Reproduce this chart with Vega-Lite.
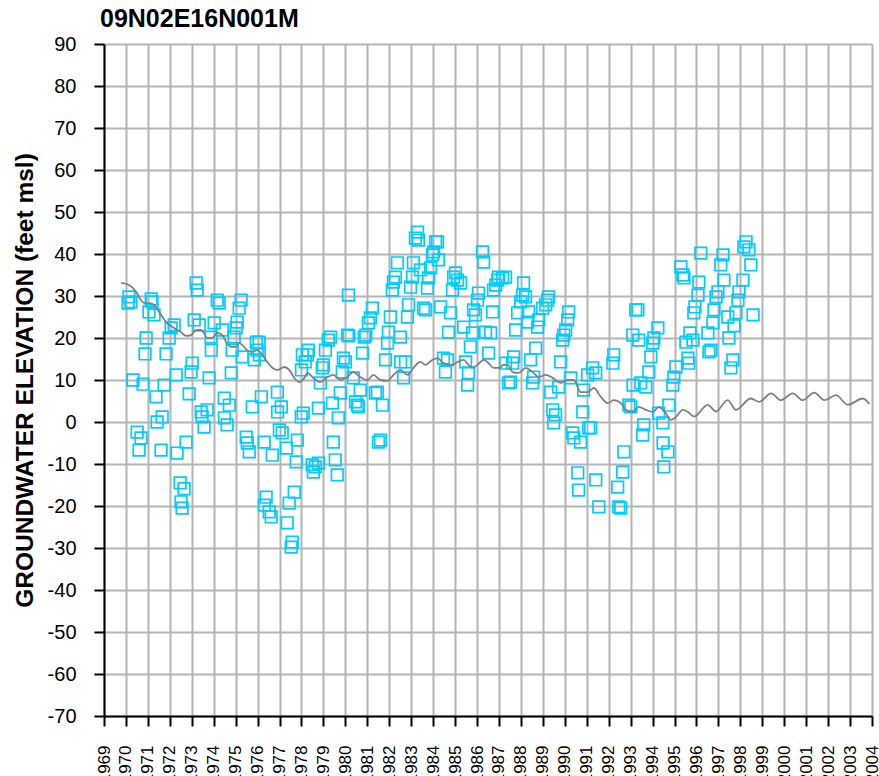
{
  "$schema": "https://vega.github.io/schema/vega-lite/v6.json",
  "width": 768,
  "height": 672,
  "autosize": {"type": "none"},
  "padding": {"left": 104, "top": 44, "right": 7, "bottom": 60},
  "background": "white",
  "config": {
    "view": {"stroke": null},
    "font": "Liberation Sans"
  },
  "title": {
    "text": "09N02E16N001M",
    "anchor": "start",
    "frame": "group",
    "font": "Liberation Sans",
    "fontSize": 25,
    "fontWeight": "bold",
    "color": "black",
    "dx": -4,
    "offset": 2
  },
  "datasets": {
    "obs": [
      {"year": 1970.14, "elev": 29.8}, {"year": 1970.23, "elev": 28.6}, {"year": 1970.10, "elev": 28.3},
      {"year": 1970.92, "elev": 20.0}, {"year": 1970.87, "elev": 16.2}, {"year": 1970.32, "elev": 10.0},
      {"year": 1970.78, "elev": 9.0}, {"year": 1971.37, "elev": 6.0}, {"year": 1970.51, "elev": -2.4},
      {"year": 1970.69, "elev": -3.8}, {"year": 1970.60, "elev": -6.7}, {"year": 1971.42, "elev": 0.0},
      {"year": 1971.65, "elev": 1.2}, {"year": 1971.19, "elev": 28.6}, {"year": 1971.05, "elev": 26.2},
      {"year": 1971.28, "elev": 25.5}, {"year": 1971.15, "elev": 29.3}, {"year": 1971.60, "elev": -6.7},
      {"year": 1972.06, "elev": 22.4}, {"year": 1972.20, "elev": 23.1}, {"year": 1971.97, "elev": 20.0},
      {"year": 1971.83, "elev": 16.2}, {"year": 1971.74, "elev": 8.8}, {"year": 1972.29, "elev": 11.2},
      {"year": 1972.33, "elev": -7.4}, {"year": 1972.74, "elev": -4.8}, {"year": 1972.47, "elev": -14.5},
      {"year": 1972.65, "elev": -15.9}, {"year": 1972.51, "elev": -19.0}, {"year": 1972.56, "elev": -20.5},
      {"year": 1973.20, "elev": 33.1}, {"year": 1973.25, "elev": 31.4}, {"year": 1973.11, "elev": 24.3},
      {"year": 1973.34, "elev": 23.1}, {"year": 1973.02, "elev": 14.0}, {"year": 1972.97, "elev": 11.9},
      {"year": 1972.88, "elev": 6.7}, {"year": 1973.43, "elev": 2.4}, {"year": 1973.47, "elev": 1.2},
      {"year": 1973.56, "elev": -1.2}, {"year": 1973.70, "elev": 2.9}, {"year": 1974.16, "elev": 29.0},
      {"year": 1974.25, "elev": 28.3}, {"year": 1974.02, "elev": 23.6}, {"year": 1974.39, "elev": 21.9},
      {"year": 1973.88, "elev": 20.2}, {"year": 1973.89, "elev": 17.1}, {"year": 1973.79, "elev": 10.5},
      {"year": 1974.48, "elev": 5.7}, {"year": 1974.71, "elev": 4.0}, {"year": 1974.49, "elev": 1.0},
      {"year": 1974.61, "elev": -0.7}, {"year": 1974.80, "elev": 11.7}, {"year": 1975.25, "elev": 29.0},
      {"year": 1975.16, "elev": 27.1}, {"year": 1975.07, "elev": 23.8}, {"year": 1975.02, "elev": 22.4},
      {"year": 1974.93, "elev": 20.2}, {"year": 1974.84, "elev": 17.1}, {"year": 1975.30, "elev": 15.5},
      {"year": 1975.48, "elev": -3.6}, {"year": 1975.53, "elev": -5.0}, {"year": 1975.62, "elev": -7.1},
      {"year": 1975.94, "elev": 19.0}, {"year": 1976.07, "elev": 19.0}, {"year": 1975.98, "elev": 17.1},
      {"year": 1976.08, "elev": 16.0}, {"year": 1975.85, "elev": 14.8}, {"year": 1975.76, "elev": 3.6},
      {"year": 1976.17, "elev": 6.0}, {"year": 1976.30, "elev": -4.8}, {"year": 1976.67, "elev": -7.9},
      {"year": 1976.90, "elev": 7.1}, {"year": 1977.08, "elev": 3.6}, {"year": 1976.91, "elev": 2.4},
      {"year": 1976.99, "elev": -1.9}, {"year": 1977.12, "elev": -2.6}, {"year": 1977.31, "elev": -6.2},
      {"year": 1976.39, "elev": -17.9}, {"year": 1976.31, "elev": -19.8}, {"year": 1976.53, "elev": -21.4},
      {"year": 1976.62, "elev": -22.6}, {"year": 1977.35, "elev": -24.0}, {"year": 1977.44, "elev": -19.3},
      {"year": 1977.67, "elev": -16.7}, {"year": 1977.58, "elev": -28.6}, {"year": 1977.53, "elev": -29.8},
      {"year": 1977.99, "elev": 1.2}, {"year": 1977.81, "elev": -4.3}, {"year": 1977.76, "elev": -9.5},
      {"year": 1978.00, "elev": 12.4}, {"year": 1978.04, "elev": 16.0}, {"year": 1978.31, "elev": 17.1},
      {"year": 1978.27, "elev": 16.0}, {"year": 1978.17, "elev": 14.3}, {"year": 1978.08, "elev": 2.1},
      {"year": 1978.49, "elev": -10.2}, {"year": 1978.63, "elev": -10.7}, {"year": 1978.54, "elev": -11.9},
      {"year": 1978.77, "elev": -9.8}, {"year": 1979.32, "elev": 20.2}, {"year": 1979.22, "elev": 19.5},
      {"year": 1979.09, "elev": 17.1}, {"year": 1979.00, "elev": 13.6}, {"year": 1978.95, "elev": 12.9},
      {"year": 1978.86, "elev": 9.3}, {"year": 1978.77, "elev": 3.3}, {"year": 1979.41, "elev": 4.5},
      {"year": 1979.77, "elev": 6.9}, {"year": 1979.68, "elev": 1.0}, {"year": 1979.45, "elev": -4.8},
      {"year": 1979.54, "elev": -9.0}, {"year": 1979.63, "elev": -12.6}, {"year": 1980.14, "elev": 30.2},
      {"year": 1980.10, "elev": 20.7}, {"year": 1980.16, "elev": 20.5}, {"year": 1979.91, "elev": 15.2},
      {"year": 1980.00, "elev": 14.3}, {"year": 1979.86, "elev": 11.9}, {"year": 1980.36, "elev": 10.5},
      {"year": 1980.46, "elev": 4.8}, {"year": 1980.55, "elev": 4.0}, {"year": 1980.59, "elev": 3.6},
      {"year": 1980.78, "elev": 16.4}, {"year": 1980.68, "elev": 7.6}, {"year": 1981.23, "elev": 27.1},
      {"year": 1981.14, "elev": 24.8}, {"year": 1981.05, "elev": 23.6}, {"year": 1980.93, "elev": 20.7},
      {"year": 1980.86, "elev": 20.2}, {"year": 1981.46, "elev": 7.1}, {"year": 1981.37, "elev": 6.9},
      {"year": 1981.69, "elev": 4.0}, {"year": 1981.60, "elev": -4.3}, {"year": 1981.51, "elev": -4.8},
      {"year": 1982.05, "elev": 25.0}, {"year": 1981.96, "elev": 21.4}, {"year": 1981.92, "elev": 18.8},
      {"year": 1981.83, "elev": 14.8}, {"year": 1982.37, "elev": 37.9}, {"year": 1982.28, "elev": 34.5},
      {"year": 1982.19, "elev": 33.3}, {"year": 1982.14, "elev": 31.4}, {"year": 1982.51, "elev": 20.2},
      {"year": 1982.52, "elev": 14.3}, {"year": 1982.74, "elev": 14.3}, {"year": 1982.65, "elev": 10.5},
      {"year": 1983.29, "elev": 45.2}, {"year": 1983.19, "elev": 43.8}, {"year": 1983.33, "elev": 43.3},
      {"year": 1983.10, "elev": 37.9}, {"year": 1983.06, "elev": 34.5}, {"year": 1982.97, "elev": 32.1},
      {"year": 1982.88, "elev": 27.9}, {"year": 1982.83, "elev": 25.0}, {"year": 1983.56, "elev": 27.1},
      {"year": 1983.65, "elev": 26.7}, {"year": 1983.74, "elev": 31.9}, {"year": 1983.79, "elev": 34.3},
      {"year": 1983.42, "elev": 36.2}, {"year": 1983.88, "elev": 36.7}, {"year": 1983.97, "elev": 39.8},
      {"year": 1984.02, "elev": 40.5}, {"year": 1984.11, "elev": 42.9}, {"year": 1984.20, "elev": 42.9},
      {"year": 1984.24, "elev": 38.6}, {"year": 1984.34, "elev": 27.4}, {"year": 1984.70, "elev": 21.4},
      {"year": 1984.79, "elev": 26.0}, {"year": 1984.47, "elev": 15.2}, {"year": 1984.65, "elev": 14.8},
      {"year": 1984.56, "elev": 11.9}, {"year": 1984.88, "elev": 31.4}, {"year": 1984.93, "elev": 34.5},
      {"year": 1985.02, "elev": 35.5}, {"year": 1985.11, "elev": 33.8}, {"year": 1985.25, "elev": 33.1},
      {"year": 1985.39, "elev": 22.6}, {"year": 1985.80, "elev": 21.2}, {"year": 1985.70, "elev": 17.9},
      {"year": 1985.61, "elev": 11.7}, {"year": 1985.48, "elev": 14.3}, {"year": 1985.57, "elev": 8.8},
      {"year": 1986.07, "elev": 30.7}, {"year": 1986.02, "elev": 29.0}, {"year": 1985.84, "elev": 26.7},
      {"year": 1985.93, "elev": 25.5}, {"year": 1986.71, "elev": 26.2}, {"year": 1986.39, "elev": 21.4},
      {"year": 1986.62, "elev": 21.2}, {"year": 1986.53, "elev": 16.4}, {"year": 1986.25, "elev": 40.5},
      {"year": 1986.30, "elev": 38.1}, {"year": 1986.85, "elev": 32.6}, {"year": 1986.94, "elev": 33.8},
      {"year": 1986.75, "elev": 31.4}, {"year": 1986.98, "elev": 34.5}, {"year": 1987.17, "elev": 34.3},
      {"year": 1987.30, "elev": 34.5}, {"year": 1988.12, "elev": 33.1}, {"year": 1988.08, "elev": 30.2},
      {"year": 1988.21, "elev": 29.8}, {"year": 1987.99, "elev": 28.6}, {"year": 1987.85, "elev": 26.0},
      {"year": 1988.35, "elev": 26.2}, {"year": 1988.31, "elev": 23.8}, {"year": 1987.76, "elev": 21.9},
      {"year": 1987.67, "elev": 15.5}, {"year": 1987.62, "elev": 14.0}, {"year": 1987.30, "elev": 14.0},
      {"year": 1987.53, "elev": 9.5}, {"year": 1987.44, "elev": 9.3}, {"year": 1988.44, "elev": 14.8},
      {"year": 1988.67, "elev": 17.6}, {"year": 1988.58, "elev": 10.7}, {"year": 1988.53, "elev": 9.3},
      {"year": 1989.26, "elev": 29.8}, {"year": 1989.22, "elev": 29.0}, {"year": 1989.13, "elev": 27.9},
      {"year": 1988.99, "elev": 27.1}, {"year": 1988.81, "elev": 24.3}, {"year": 1988.76, "elev": 22.6},
      {"year": 1989.36, "elev": 7.1}, {"year": 1989.72, "elev": 8.3}, {"year": 1989.45, "elev": 2.9},
      {"year": 1989.58, "elev": 1.7}, {"year": 1989.49, "elev": -0.2}, {"year": 1990.18, "elev": 26.2},
      {"year": 1990.13, "elev": 24.3}, {"year": 1990.04, "elev": 21.9}, {"year": 1989.95, "elev": 20.7},
      {"year": 1989.90, "elev": 19.5}, {"year": 1989.81, "elev": 14.3}, {"year": 1990.27, "elev": 10.5},
      {"year": 1990.82, "elev": 2.4}, {"year": 1990.86, "elev": 7.6}, {"year": 1991.18, "elev": -1.4},
      {"year": 1991.09, "elev": -1.4}, {"year": 1990.36, "elev": -2.6}, {"year": 1990.41, "elev": -3.8},
      {"year": 1990.72, "elev": -4.8}, {"year": 1990.59, "elev": -12.1}, {"year": 1990.63, "elev": -16.2},
      {"year": 1991.04, "elev": 11.2}, {"year": 1991.27, "elev": 12.9}, {"year": 1991.41, "elev": 11.7},
      {"year": 1991.41, "elev": -13.8}, {"year": 1991.55, "elev": -20.2}, {"year": 1992.23, "elev": 16.0},
      {"year": 1992.19, "elev": 14.0}, {"year": 1992.41, "elev": -15.5}, {"year": 1992.46, "elev": -20.2},
      {"year": 1992.55, "elev": -20.5}, {"year": 1992.64, "elev": -11.9}, {"year": 1992.69, "elev": -7.1},
      {"year": 1993.23, "elev": 26.7}, {"year": 1993.33, "elev": 26.7}, {"year": 1993.10, "elev": 20.7},
      {"year": 1993.37, "elev": 19.5}, {"year": 1992.92, "elev": 4.0}, {"year": 1993.01, "elev": 3.6},
      {"year": 1993.11, "elev": 8.8}, {"year": 1993.46, "elev": 9.3}, {"year": 1993.69, "elev": 8.3},
      {"year": 1993.83, "elev": 11.9}, {"year": 1993.92, "elev": 15.5}, {"year": 1994.01, "elev": 18.8},
      {"year": 1994.06, "elev": 20.0}, {"year": 1994.24, "elev": 22.4}, {"year": 1993.60, "elev": -0.7},
      {"year": 1993.55, "elev": -3.1}, {"year": 1994.28, "elev": 2.1}, {"year": 1994.47, "elev": -0.2},
      {"year": 1994.48, "elev": -5.0}, {"year": 1994.70, "elev": -7.1}, {"year": 1994.51, "elev": -10.7},
      {"year": 1994.74, "elev": 4.0}, {"year": 1994.92, "elev": 8.8}, {"year": 1994.97, "elev": 10.7},
      {"year": 1995.06, "elev": 13.1}, {"year": 1995.29, "elev": 36.9}, {"year": 1995.38, "elev": 35.0},
      {"year": 1995.43, "elev": 34.3}, {"year": 1995.52, "elev": 19.0}, {"year": 1995.61, "elev": 15.2},
      {"year": 1995.65, "elev": 14.0}, {"year": 1995.84, "elev": 19.5}, {"year": 1995.88, "elev": 26.0},
      {"year": 1995.93, "elev": 27.4}, {"year": 1996.20, "elev": 40.2}, {"year": 1996.11, "elev": 33.3},
      {"year": 1996.07, "elev": 30.2}, {"year": 1995.70, "elev": 21.2}, {"year": 1997.21, "elev": 39.8},
      {"year": 1997.11, "elev": 37.4}, {"year": 1997.25, "elev": 33.8}, {"year": 1996.98, "elev": 31.0},
      {"year": 1996.89, "elev": 29.8}, {"year": 1996.80, "elev": 26.7}, {"year": 1996.75, "elev": 23.6},
      {"year": 1996.52, "elev": 21.2}, {"year": 1996.57, "elev": 16.7}, {"year": 1996.66, "elev": 17.1},
      {"year": 1997.43, "elev": 25.0}, {"year": 1997.48, "elev": 20.0}, {"year": 1997.57, "elev": 12.9},
      {"year": 1997.66, "elev": 14.8}, {"year": 1998.26, "elev": 42.9}, {"year": 1998.16, "elev": 41.7},
      {"year": 1998.39, "elev": 41.0}, {"year": 1998.48, "elev": 37.4}, {"year": 1998.12, "elev": 33.8},
      {"year": 1997.94, "elev": 31.0}, {"year": 1997.89, "elev": 29.0}, {"year": 1997.80, "elev": 26.0},
      {"year": 1997.71, "elev": 22.9}, {"year": 1998.58, "elev": 25.5}
    ],
    "trend": [
      {"year": 1969.78, "elev": 33.1}, {"year": 1970.14, "elev": 32.6}, {"year": 1970.46, "elev": 31.0},
      {"year": 1970.69, "elev": 29.0}, {"year": 1970.83, "elev": 28.3}, {"year": 1971.05, "elev": 28.3},
      {"year": 1971.28, "elev": 27.9}, {"year": 1971.51, "elev": 26.2}, {"year": 1971.83, "elev": 23.8},
      {"year": 1972.19, "elev": 22.4}, {"year": 1972.51, "elev": 21.4}, {"year": 1972.74, "elev": 20.5},
      {"year": 1972.97, "elev": 20.7}, {"year": 1973.20, "elev": 21.9}, {"year": 1973.43, "elev": 21.9},
      {"year": 1973.56, "elev": 21.2}, {"year": 1973.70, "elev": 20.0}, {"year": 1973.93, "elev": 20.0},
      {"year": 1974.16, "elev": 21.2}, {"year": 1974.39, "elev": 20.7}, {"year": 1974.57, "elev": 19.0},
      {"year": 1974.80, "elev": 17.9}, {"year": 1975.02, "elev": 17.9}, {"year": 1975.16, "elev": 18.8},
      {"year": 1975.30, "elev": 18.3}, {"year": 1975.53, "elev": 17.1}, {"year": 1975.75, "elev": 16.7},
      {"year": 1975.98, "elev": 17.1}, {"year": 1976.21, "elev": 16.0}, {"year": 1976.44, "elev": 14.3},
      {"year": 1976.67, "elev": 12.9}, {"year": 1976.90, "elev": 12.4}, {"year": 1977.22, "elev": 13.1},
      {"year": 1977.44, "elev": 12.4}, {"year": 1977.67, "elev": 10.5}, {"year": 1977.90, "elev": 9.5},
      {"year": 1978.13, "elev": 10.5}, {"year": 1978.27, "elev": 11.7}, {"year": 1978.54, "elev": 10.5},
      {"year": 1978.86, "elev": 9.5}, {"year": 1979.18, "elev": 10.7}, {"year": 1979.45, "elev": 11.2},
      {"year": 1979.77, "elev": 10.0}, {"year": 1980.09, "elev": 10.7}, {"year": 1980.36, "elev": 11.9},
      {"year": 1980.68, "elev": 10.7}, {"year": 1981.00, "elev": 10.0}, {"year": 1981.28, "elev": 11.2},
      {"year": 1981.60, "elev": 10.0}, {"year": 1981.92, "elev": 9.8}, {"year": 1982.19, "elev": 11.2},
      {"year": 1982.51, "elev": 12.4}, {"year": 1982.83, "elev": 11.2}, {"year": 1983.10, "elev": 12.9},
      {"year": 1983.42, "elev": 14.3}, {"year": 1983.65, "elev": 13.6}, {"year": 1983.97, "elev": 14.8},
      {"year": 1984.20, "elev": 15.2}, {"year": 1984.47, "elev": 14.0}, {"year": 1984.88, "elev": 13.6},
      {"year": 1985.11, "elev": 14.3}, {"year": 1985.39, "elev": 14.8}, {"year": 1985.61, "elev": 13.6},
      {"year": 1985.80, "elev": 12.9}, {"year": 1986.02, "elev": 13.6}, {"year": 1986.30, "elev": 14.8},
      {"year": 1986.53, "elev": 14.0}, {"year": 1986.75, "elev": 12.9}, {"year": 1987.07, "elev": 12.9},
      {"year": 1987.17, "elev": 13.6}, {"year": 1987.39, "elev": 13.6}, {"year": 1987.62, "elev": 11.9},
      {"year": 1987.90, "elev": 11.7}, {"year": 1988.21, "elev": 12.9}, {"year": 1988.53, "elev": 11.9},
      {"year": 1988.81, "elev": 10.7}, {"year": 1989.13, "elev": 11.2}, {"year": 1989.45, "elev": 10.5},
      {"year": 1989.81, "elev": 9.3}, {"year": 1990.13, "elev": 10.0}, {"year": 1990.41, "elev": 10.0},
      {"year": 1990.73, "elev": 7.1}, {"year": 1991.04, "elev": 7.1}, {"year": 1991.32, "elev": 8.1},
      {"year": 1991.64, "elev": 6.0}, {"year": 1991.96, "elev": 4.5}, {"year": 1992.23, "elev": 5.2},
      {"year": 1992.55, "elev": 4.5}, {"year": 1992.78, "elev": 2.9}, {"year": 1993.10, "elev": 2.4},
      {"year": 1993.37, "elev": 3.6}, {"year": 1993.69, "elev": 2.9}, {"year": 1994.01, "elev": 2.4},
      {"year": 1994.29, "elev": 3.6}, {"year": 1994.60, "elev": 2.1}, {"year": 1994.83, "elev": 0.5},
      {"year": 1995.06, "elev": 1.2}, {"year": 1995.38, "elev": 2.9}, {"year": 1995.61, "elev": 2.4},
      {"year": 1995.90, "elev": 1.3}, {"year": 1996.51, "elev": 4.1}, {"year": 1996.89, "elev": 2.5},
      {"year": 1997.42, "elev": 5.2}, {"year": 1997.80, "elev": 2.9}, {"year": 1998.48, "elev": 5.6},
      {"year": 1998.86, "elev": 4.8}, {"year": 1999.40, "elev": 6.8}, {"year": 1999.85, "elev": 5.2},
      {"year": 2000.39, "elev": 6.8}, {"year": 2000.84, "elev": 5.2}, {"year": 2001.37, "elev": 7.0},
      {"year": 2001.83, "elev": 5.2}, {"year": 2002.36, "elev": 6.4}, {"year": 2002.90, "elev": 4.1},
      {"year": 2003.58, "elev": 5.6}, {"year": 2003.88, "elev": 4.3}
    ]
  },
  "encoding": {
    "x": {
      "field": "year",
      "type": "quantitative",
      "title": null,
      "scale": {"domain": [1969, 2004], "nice": false, "zero": false},
      "axis": {
        "values": [1969, 1970, 1971, 1972, 1973, 1974, 1975, 1976, 1977, 1978, 1979, 1980, 1981, 1982, 1983, 1984, 1985, 1986, 1987, 1988, 1989, 1990, 1991, 1992, 1993, 1994, 1995, 1996, 1997, 1998, 1999, 2000, 2001, 2002, 2003, 2004],
        "format": "d",
        "labelAngle": -90,
        "labelAlign": "right",
        "labelBaseline": "middle",
        "labelFont": "Liberation Sans",
        "labelFontSize": 17,
        "labelColor": "black",
        "labelPadding": 19,
        "labelOverlap": false,
        "labelFlush": false,
        "labelBound": false,
        "tickSize": 10,
        "tickColor": "black",
        "tickWidth": 2,
        "domainColor": "black",
        "domainWidth": 2,
        "grid": true,
        "gridColor": "#b4b4b4",
        "gridWidth": 2
      }
    },
    "y": {
      "field": "elev",
      "type": "quantitative",
      "title": "GROUNDWATER ELEVATION (feet msl)",
      "scale": {"domain": [-70, 90], "nice": false, "zero": false},
      "axis": {
        "values": [-70, -60, -50, -40, -30, -20, -10, 0, 10, 20, 30, 40, 50, 60, 70, 80, 90],
        "labelExpr": "'' + datum.value",
        "labelFont": "Liberation Sans",
        "labelFontSize": 20,
        "labelColor": "black",
        "labelPadding": 18,
        "tickSize": 10,
        "tickColor": "black",
        "tickWidth": 2,
        "domainColor": "black",
        "domainWidth": 2,
        "grid": true,
        "gridColor": "#b4b4b4",
        "gridWidth": 2,
        "titleFont": "Liberation Sans",
        "titleFontSize": 24.5,
        "titleFontWeight": "bold",
        "titleColor": "black",
        "titlePadding": 10
      }
    }
  },
  "layer": [
    {
      "data": {"name": "obs"},
      "mark": {"type": "point", "shape": "square", "filled": false, "size": 135, "strokeWidth": 1.7, "color": "#00CCFF", "opacity": 1}
    },
    {
      "data": {"name": "trend"},
      "mark": {"type": "line", "color": "#808080", "strokeWidth": 1.8, "interpolate": "monotone"}
    },
    {
      "data": {"values": [{}]},
      "mark": {"type": "rule", "color": "black", "strokeWidth": 3, "strokeDash": [10, 6]},
      "encoding": {"y": {"datum": 0}, "x": null}
    }
  ]
}
